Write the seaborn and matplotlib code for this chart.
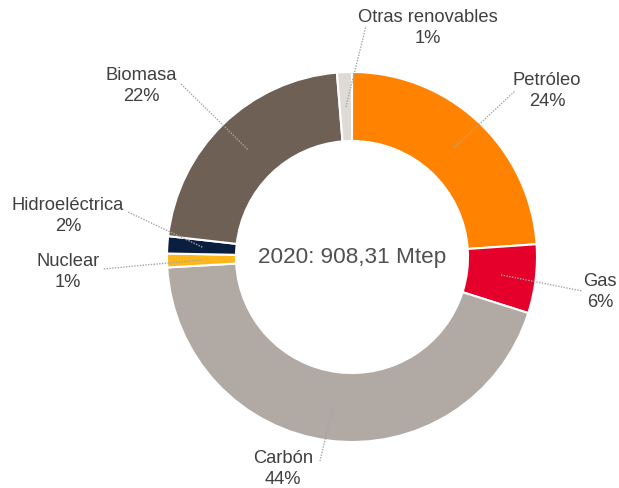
import matplotlib
matplotlib.use("Agg")
import matplotlib.pyplot as plt
import numpy as np
import seaborn as sns

# energy mix 2020 (share of total, %)
categories = ['Petróleo', 'Gas', 'Carbón', 'Nuclear', 'Hidroeléctrica', 'Biomasa', 'Otras renovables']
shares = [23.9, 6.0, 44.2, 1.2, 1.5, 21.9, 1.3]
pct_labels = ['24%', '6%', '44%', '1%', '2%', '22%', '1%']
colors = ['#FF8300', '#E4002B', '#B0A9A4', '#FDB71A', '#0A1F40', '#6E6055', '#DEDBD5']
center_text = '2020: 908,31 Mtep'

# layout (pixel coords, y from top)
W, H = 619, 489
cx, cy = 352, 258
r_out, ring_w = 185, 69
label_pos = [(547, 91), (600, 292), (283, 469), (68, 272), (68, 216), (141, 86), (428, 28)]
line_end = [(515, 92), (582, 292), (320, 462), (103, 270), (128, 213), (180, 84), (366, 27)]

sns.set_theme(style='white')
plt.rcParams['font.family'] = ['Liberation Sans', 'DejaVu Sans']

fig = plt.figure(figsize=(W / 100, H / 100), dpi=100)
ax = fig.add_axes([0, 0, 1, 1])

ax.pie(shares, colors=sns.color_palette(colors), startangle=90, counterclock=False,
       center=(cx, H - cy), radius=r_out,
       wedgeprops=dict(width=ring_w, edgecolor='white', linewidth=1.5))

# pie resets the limits, so set them afterwards
ax.set_xlim(0, W)
ax.set_ylim(0, H)
ax.set_aspect('equal')
ax.axis('off')

ax.text(cx, H - cy, center_text, ha='center', va='center', fontsize=16.2, color='#505050')

# leader lines from middle of ring to labels
total = sum(shares)
cum = np.cumsum([0] + shares)
r_mid = 150
for i, cat in enumerate(categories):
    mid = (cum[i] + shares[i] / 2) / total * 2 * np.pi
    x0 = cx + r_mid * np.sin(mid)
    y0 = cy - r_mid * np.cos(mid)
    ex, ey = line_end[i]
    ax.plot([x0, ex], [H - y0, H - ey], color='#A6A6A6', lw=1, ls=(0, (1, 1)))
    lx, ly = label_pos[i]
    ax.text(lx, H - ly, f'{cat}\n{pct_labels[i]}', ha='center', va='center',
            fontsize=13.2, color='#404040', linespacing=1.25)

fig.savefig('out.png', dpi=100)
